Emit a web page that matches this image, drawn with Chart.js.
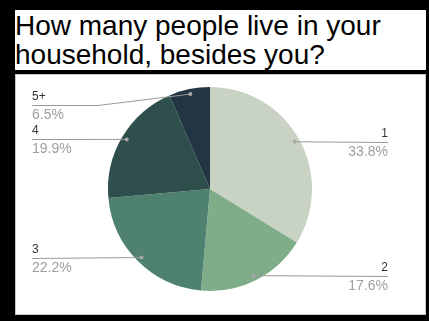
<!DOCTYPE html>
<html>
<head>
<meta charset="utf-8">
<script src="https://cdn.jsdelivr.net/npm/chart.js@4"></script>
<style>
  html, body { margin: 0; padding: 0; }
  body { width: 429px; height: 321px; background: #000; position: relative; overflow: hidden; }
  .title {
    position: absolute; left: 15px; top: 10px; width: 411px; height: 60px;
    background: #fff; box-sizing: border-box; padding-top: 1px;
    font-family: "Liberation Sans", Arial, sans-serif; font-size: 28px; line-height: 29px; color: #000;
  }
  .box {
    position: absolute; left: 15px; top: 74px; width: 411px; height: 241px;
    background: #fff; box-sizing: border-box; border: 1px solid #c8c8c8;
  }
  canvas { display: block; }
</style>
</head>
<body>
<div class="title">How many people live in your<br>household, besides you?</div>
<div class="box"><canvas id="myChart" width="409" height="239"></canvas></div>
<script>
const categories = ["1", "2", "3", "4", "5+"];
const percentages = [33.8, 17.6, 22.2, 19.9, 6.5];
const sliceColors = ["#c9d3c4", "#7fad8a", "#4f8171", "#2e4f4b", "#223542"];

/* names + percents with leader lines, Google Forms style */
const leaderLabels = {
  id: "leaderLabels",
  afterDatasetsDraw(chart) {
    const ctx = chart.ctx;
    const meta = chart.getDatasetMeta(0);
    const leftX = 16;
    const rightX = 372;
    const minLineY = 30;
    meta.data.forEach((arc, i) => {
      const p = arc.getProps(["x", "y", "startAngle", "endAngle", "outerRadius"], true);
      const mid = (p.startAngle + p.endAngle) / 2;
      const dotX = p.x + Math.cos(mid) * p.outerRadius * 0.95;
      const dotY = p.y + Math.sin(mid) * p.outerRadius * 0.95;
      const left = Math.cos(mid) < 0;
      const lineY = Math.max(dotY, minLineY);
      const textX = left ? leftX : rightX;

      ctx.save();
      ctx.strokeStyle = "#9a9a9a";
      ctx.lineWidth = 1;
      ctx.beginPath();
      ctx.moveTo(textX, Math.round(lineY) + 0.5);
      if (lineY !== dotY) {
        const elbow = left ? textX + 66 : textX - 66;
        ctx.lineTo(elbow, Math.round(lineY) + 0.5);
      }
      ctx.lineTo(dotX, dotY);
      ctx.stroke();

      ctx.fillStyle = "#a8a8a8";
      ctx.beginPath();
      ctx.arc(dotX, dotY, 2, 0, Math.PI * 2);
      ctx.fill();

      ctx.textAlign = left ? "left" : "right";
      ctx.textBaseline = "alphabetic";
      ctx.fillStyle = "#333";
      ctx.font = "12px 'Liberation Sans', Arial, sans-serif";
      ctx.fillText(categories[i], textX, lineY - 5);
      ctx.fillStyle = "#9e9e9e";
      ctx.font = "14px 'Liberation Sans', Arial, sans-serif";
      ctx.fillText(percentages[i].toFixed(1) + "%", textX, lineY + 14);
      ctx.restore();
    });
  },
};

const ctx = document.getElementById("myChart");
new Chart(ctx, {
  type: "pie",
  data: {
    labels: categories,
    datasets: [
      {
        data: percentages,
        backgroundColor: sliceColors,
        borderWidth: 0,
        hoverOffset: 0,
      },
    ],
  },
  options: {
    responsive: false,
    animation: false,
    devicePixelRatio: 1,
    layout: { padding: { left: 0, right: 21, top: 12, bottom: 23 } },
    plugins: {
      legend: { display: false },
      tooltip: { enabled: false },
    },
  },
  plugins: [leaderLabels],
});
</script>
</body>
</html>
